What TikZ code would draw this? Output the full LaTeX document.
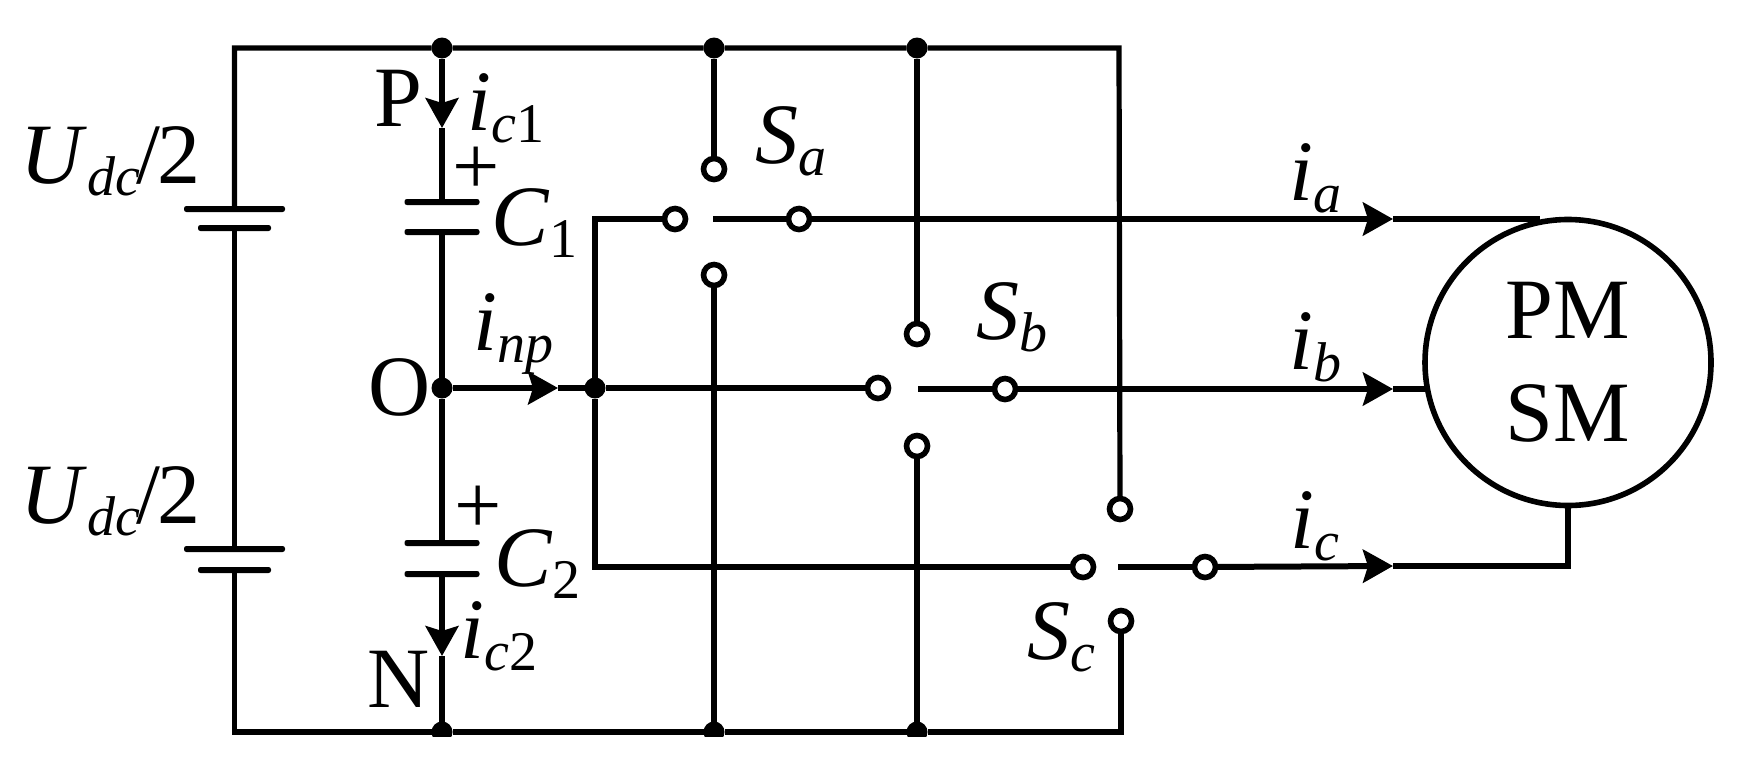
\documentclass[tikz,border=0pt]{standalone}
\usepackage{fontspec}
\setmainfont{Liberation Serif}
\usetikzlibrary{arrows.meta}
\newcommand{\dnsub}[1]{\raisebox{-6pt}{\fontsize{28}{28}\selectfont\itshape #1}}

\begin{document}
\begin{tikzpicture}[
  x = 0.5pt, y = -0.5pt,
  wire/.style = {line width=2.6pt},
  flow/.style = {line width=3pt, -{Stealth[length=15pt, width=16.5pt, inset=2.5pt]}},
  dot/.style = {circle, fill=black, inner sep=0pt, outer sep=0pt, minimum size=10.5pt},
  term/.style = {circle, draw, fill=white, line width=2.8pt, inner sep=0pt, outer sep=0pt, minimum size=10.5pt},
  plate/.style = {rectangle, fill=black, rounded corners=1.2pt, inner sep=0pt, outer sep=0pt, minimum height=3pt},
  lab/.style = {anchor=base west, inner sep=0pt, font=\fontsize{43}{43}\selectfont}
]
  \useasboundingbox (0,0) rectangle (1744,766);
  \clip (0,0) rectangle (1744,736.5);

  % corners of the DC rails
  \coordinate (tl) at (234.5,48);
  \coordinate (tr) at (1119,48);
  \coordinate (bl) at (234.5,732);
  \coordinate (br) at (1121,732);

  % junctions
  \node[dot] (dP) at (442,48) {};
  \node[dot] (dAt) at (714,48) {};
  \node[dot] (dBt) at (917,48) {};
  \node[dot] (dN) at (442,732) {};
  \node[dot] (dAb) at (714,732) {};
  \node[dot] (dBb) at (917,732) {};
  \node[dot] (dO) at (442,388) {};
  \node[dot] (dO2) at (595,388) {};

  % DC sources and capacitors
  \node[plate, minimum width=50.5pt] (bat1a) at (234.5,209) {};
  \node[plate, minimum width=36.5pt] (bat1b) at (234.5,228) {};
  \node[plate, minimum width=50.5pt] (bat2a) at (234.5,549) {};
  \node[plate, minimum width=36.5pt] (bat2b) at (234.5,570) {};
  \node[plate, minimum width=37.5pt] (c1a) at (442,202) {};
  \node[plate, minimum width=37.5pt] (c1b) at (442,232) {};
  \node[plate, minimum width=37.5pt] (c2a) at (442,543) {};
  \node[plate, minimum width=37.5pt] (c2b) at (442,574) {};

  % switch terminals
  \node[term] (Sat) at (714,169) {};
  \node[term] (Sal) at (675,219) {};
  \node[term] (Sar) at (799,219) {};
  \node[term] (Sab) at (714,275) {};
  \node[term] (Sbt) at (917,334) {};
  \node[term] (Sbl) at (878,388) {};
  \node[term] (Sbr) at (1005,389) {};
  \node[term] (Sbb) at (917,446) {};
  \node[term] (Sct) at (1120,509) {};
  \node[term] (Scl) at (1083,567) {};
  \node[term] (Scr) at (1205,567) {};
  \node[term] (Scb) at (1121,621) {};

  % machine
  \node[circle, draw, line width=2.8pt, inner sep=0pt, outer sep=0pt, minimum size=143pt, align=center,
    font=\fontsize{43}{51.5}\selectfont] (motor) at (1568,362.5) {PM\\SM};

  % free ends of the contact stubs and arrow tips
  \coordinate (Saf) at (713,219);
  \coordinate (Sbf) at (918,389);
  \coordinate (Scf) at (1118,567);
  \coordinate (tip1) at (442,128);
  \coordinate (tip2) at (442,656);
  \coordinate (tipO) at (558,388);
  \coordinate (tipa) at (1393,219);
  \coordinate (tipb) at (1393,389);
  \coordinate (tipc) at (1393,566);

  % DC rails
  \draw[wire] (bat1a) -- (tl) -- (dP) -- (dAt) -- (dBt) -- (tr) -- (Sct);
  \draw[wire] (bat2b) -- (bl) -- (dN) -- (dAb) -- (dBb) -- (br) -- (Scb);
  \draw[wire] (bat1b) -- (bat2a);
  \draw[wire] (dAt) -- (Sat);
  \draw[wire] (dBt) -- (Sbt);
  \draw[wire] (dAb) -- (Sab);
  \draw[wire] (dBb) -- (Sbb);

  % midpoint branch
  \draw[flow, line width=2.6pt] (dP) -- (tip1);
  \draw[wire] (tip1) -- (c1a);
  \draw[wire] (c1b) -- (dO) -- (c2a);
  \draw[flow, line width=2.6pt] (c2b) -- (tip2);
  \draw[wire] (tip2) -- (dN);
  \draw[flow, line width=2.6pt] (dO) -- (tipO);
  \draw[wire] (tipO) -- (dO2) -- (Sbl);
  \draw[wire] (Sal) -| (dO2);
  \draw[wire] (dO2) |- (Scl);

  % phase outputs
  \draw[wire] (Saf) -- (Sar);
  \draw[wire] (Sbf) -- (Sbr);
  \draw[wire] (Scf) -- (Scr);
  \draw[flow] (Sar) -- (tipa);
  \draw[flow] (Sbr) -- (tipb);
  \draw[flow] (Scr) -- (tipc);
  \draw[wire] (tipa) -- (1540,219);
  \draw[wire] (tipb) -- (tipb -| motor.west);
  \draw[wire] (tipc) -| (motor.south);

  % plus signs
  \node[lab, anchor=center, font=\fontsize{42}{42}\selectfont] (plus1) at (476,171) {+};
  \node[lab, anchor=center, font=\fontsize{42}{42}\selectfont] (plus2) at (478,510) {+};

  % labels
  \node[lab] (Ud1) at (20,183) {\textit{U}\dnsub{dc}\kern-2pt/\kern-1pt 2};
  \node[lab] (Ud2) at (20,523) {\textit{U}\dnsub{dc}\kern-2pt/\kern-1pt 2};
  \node[lab] (lP) at (374,126) {P};
  \node[lab] (lO) at (368,415) {O};
  \node[lab] (lN) at (367,707) {N};
  \node[lab] (lc1) at (491,245) {\textit{C}\dnsub{\upshape 1}};
  \node[lab] (lc2) at (494,586) {\textit{C}\dnsub{\upshape 2}};
  \node[lab] (li1) at (467,130) {\textit{i}\dnsub{c\upshape 1}};
  \node[lab] (li2) at (460,658) {\textit{i}\dnsub{c\upshape 2}};
  \node[lab] (linp) at (473,350) {\textit{i}\dnsub{np}};
  \node[lab] (lSa) at (755,163) {\textit{S}\dnsub{a}};
  \node[lab] (lSb) at (976,339) {\textit{S}\dnsub{b}};
  \node[lab] (lSc) at (1027,659) {\textit{S}\dnsub{c}};
  \node[lab] (lia) at (1289,200) {\textit{i}\dnsub{a}};
  \node[lab] (lib) at (1289,369) {\textit{i}\dnsub{b}};
  \node[lab] (lic) at (1290,548) {\textit{i}\dnsub{c}};
\end{tikzpicture}
\end{document}
